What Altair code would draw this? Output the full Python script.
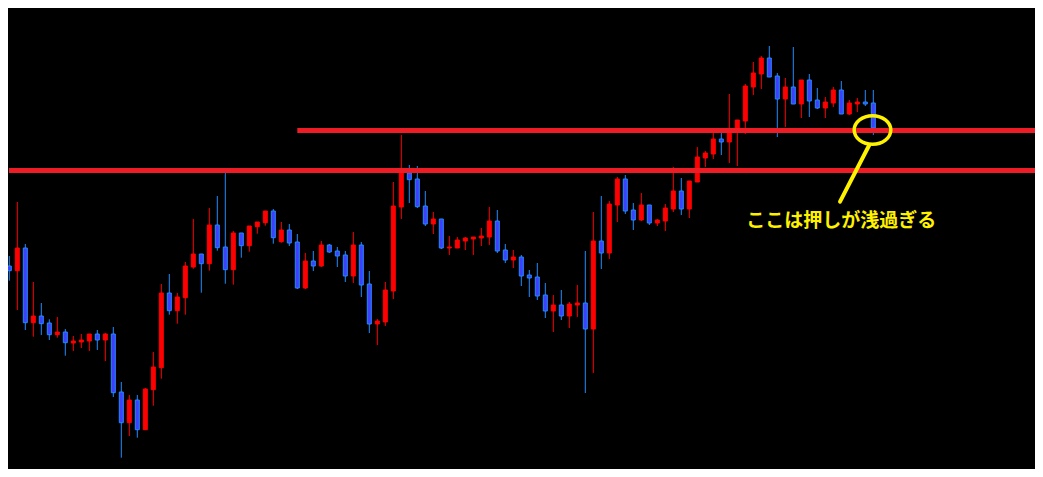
import altair as alt
import pandas as pd

# Candle values (arbitrary price units, higher = higher on chart), one per bar
opens = [211, 214, 209.3, 232, 157.3, 164, 157, 145.3, 148, 137,
         138, 139, 146, 140, 146, 88, 57.3, 80, 50.3, 90.3,
         112.3, 187, 169.3, 182.3, 213, 226, 216.3, 255, 233, 210.3,
         247, 234.3, 253.3, 257.3, 269, 238.3, 250, 238, 192, 219,
         214, 235, 229, 225, 204, 235, 196, 156, 158, 189,
         273, 307, 301, 274, 256, 261, 232, 232, 239, 241,
         242, 243, 259, 230, 220, 223, 205, 203, 185, 169,
         175, 164, 175, 177, 151, 239, 227, 275, 301, 270,
         260, 275, 257, 259, 271, 289, 271, 298, 322, 326,
         341, 338, 348, 359, 393, 406, 422, 404, 381, 393,
         376, 400, 380, 372, 377, 390, 366, 376, 378, 377]
highs = [227, 224, 278, 236, 198, 177, 160.7, 163, 151, 144,
         146, 146, 150, 147, 153, 98, 85, 85, 92, 128,
         196, 206, 187, 218, 261, 226, 272, 284, 307.3, 249,
         247, 254, 258, 269, 271, 258, 256, 246, 227, 229,
         239, 236, 233, 229, 248, 238, 209, 161, 198, 298,
         345, 315, 314, 289, 268, 261, 244, 243, 243, 243,
         252, 273, 270, 236, 230, 225, 210, 217, 197, 185,
         190, 178, 195, 229, 268, 284, 279, 303, 305, 277,
         287, 275, 261, 276, 313, 302, 299, 333, 329, 347,
         347, 386, 360, 396, 418, 424, 434, 407, 402, 433,
         400, 406, 392, 383, 393, 399, 380, 382, 390, 390]
lows = [199.3, 199.3, 170, 150, 143.3, 145, 140, 142.3, 124.3, 129,
        132, 129, 130, 119, 83, 22.3, 44, 42.3, 50, 74.3,
        101.3, 165.3, 156.3, 165.3, 211.3, 187.3, 209.3, 229.3, 196.3, 195.3,
        222.3, 228.3, 246.3, 254.3, 236.3, 237.3, 234, 191, 191, 209,
        213, 227, 213, 198, 197, 183, 147, 135, 154, 181,
        261, 277, 272, 254, 246, 231, 225, 232, 230, 225,
        234, 235, 227, 217, 212, 194, 183, 180, 162, 148,
        160, 152, 163, 87, 107, 211, 221, 258, 266, 250,
        259, 255, 254, 249, 268, 265, 262, 298, 313, 321,
        325, 317, 314, 346, 385, 391, 403, 343, 353, 376,
        362, 363, 371, 362, 373, 366, 365, 368, 374, 345]
closes = [214, 209.3, 232, 157.3, 164, 156.3, 145.3, 148, 137.3, 139,
          140, 146, 140, 146, 87.3, 57.3, 80, 50.3, 91, 113,
          187, 169.3, 183, 214, 226, 216.3, 255, 232.3, 210.3, 247,
          234.3, 254, 258, 269, 242.3, 250, 237, 192, 219, 214,
          235, 228, 224, 204, 235, 195, 156, 159, 190, 274,
          308, 300.3, 273.3, 256, 261, 232, 233, 240, 242, 243,
          244, 259, 229, 220, 223, 204, 202, 184, 169, 175,
          164, 176, 177, 151, 239, 227, 276, 301, 269, 260,
          275, 257, 260, 272, 289, 271, 299, 323, 327, 341,
          338, 349, 360, 394, 407, 422, 403, 381, 393, 376,
          400, 379, 372, 378, 390, 366, 377, 378, 376, 352]

# Horizontal resistance lines: price level and starting bar index
line_levels = [349.5, 309.5]
line_starts = [37.0, 0.96]
line_end = 140

# Annotation (bar index / price units)
ring_x, ring_y = [108.9], [350]
tail_x, tail_y, tail_x2, tail_y2 = [108.5], [335], [104.84], [278.3]
note_x, note_y = [105.0], [259]
note_text = ["ここは押しが浅過ぎる"]

RED = "#FF0000"
BLUE_FILL = "#3F3FFF"
BLUE_EDGE = "#1E8CFF"
LINE_RED = "#EE1C25"
YELLOW = "#FFF200"

df = pd.DataFrame({
    "i": list(range(len(opens))),
    "open": opens, "high": highs, "low": lows, "close": closes,
})

xs = alt.Scale(domain=[0.8375, 129.2125], nice=False, zero=False, padding=0)
ys = alt.Scale(domain=[11, 472], nice=False, zero=False, padding=0)
X = lambda f: alt.X(f, type="quantitative", scale=xs, axis=None)
Y = lambda f: alt.Y(f, type="quantitative", scale=ys, axis=None)

up = "datum.close > datum.open"

base = alt.Chart(df)
wicks = base.mark_rule(strokeWidth=1, clip=True).encode(
    x=X("i"), y=Y("low"), y2="high",
    color=alt.condition(up, alt.value(RED), alt.value(BLUE_EDGE)),
)
bodies = base.mark_bar(size=4, strokeWidth=1, clip=True).encode(
    x=X("i"), y=Y("open"), y2="close",
    fill=alt.condition(up, alt.value(RED), alt.value(BLUE_FILL)),
    stroke=alt.condition(up, alt.value(RED), alt.value(BLUE_EDGE)),
)

lines_df = pd.DataFrame({"level": line_levels, "start": line_starts,
                         "end": [line_end] * len(line_levels)})
hlines = alt.Chart(lines_df).mark_rule(
    strokeWidth=5, color=LINE_RED, clip=True, strokeCap="butt"
).encode(x=X("start"), x2="end", y=Y("level"))

ring = alt.Chart(pd.DataFrame({"x": ring_x, "y": ring_y})).mark_point(
    shape="M -1 0 A 1 0.78 0 1 0 1 0 A 1 0.78 0 1 0 -1 0 Z",
    size=1340, filled=False, strokeWidth=3.5, color=YELLOW, opacity=1,
).encode(x=X("x"), y=Y("y"))

tail = alt.Chart(pd.DataFrame({"x": tail_x, "y": tail_y, "x2": tail_x2, "y2": tail_y2})).mark_rule(
    strokeWidth=4, color=YELLOW, strokeCap="round"
).encode(x=X("x"), y=Y("y"), x2="x2", y2="y2")

note = alt.Chart(pd.DataFrame({"x": note_x, "y": note_y, "t": note_text})).mark_text(
    font="Noto Sans CJK JP", fontSize=19, fontWeight="bold", color=YELLOW,
    align="center", baseline="middle",
).encode(x=X("x"), y=Y("y"), text="t")

chart = alt.layer(wicks, bodies, hlines, ring, tail, note).properties(
    width=1027, height=461,
    autosize=alt.AutoSizeParams(type="fit", contains="padding"),
    padding=0, background="#000000",
).configure_view(stroke=None)

chart.save("out.html", embed_options={"renderer": "svg", "actions": False})
